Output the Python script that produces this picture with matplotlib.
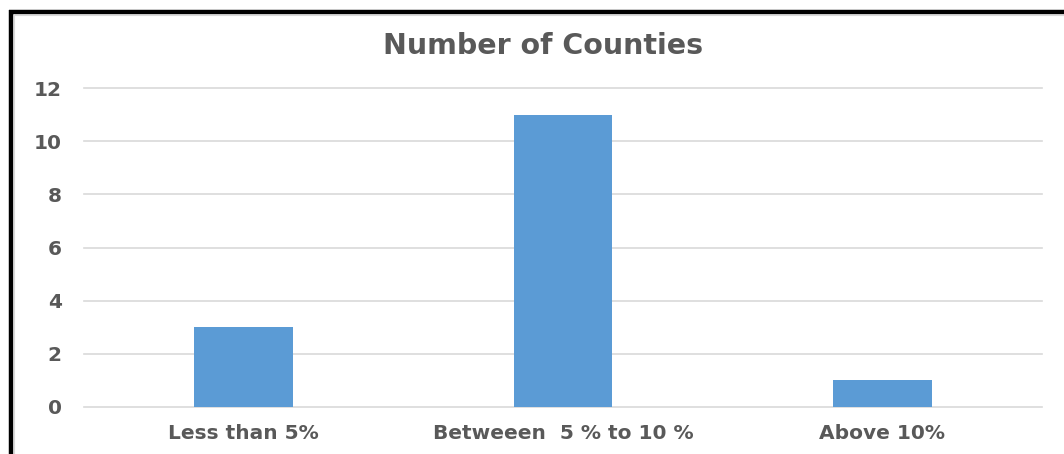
import matplotlib
matplotlib.use("Agg")
import matplotlib.pyplot as plt
from matplotlib.lines import Line2D

categories = ["Less than 5%", "Betweeen  5 % to 10 %", "Above 10%"]
counts = [3, 11, 1]
yticks = [0, 2, 4, 6, 8, 10, 12]
title = "Number of Counties"

W, H = 1064, 454
fig = plt.figure(figsize=(W / 100, H / 100), dpi=100)
fig.patch.set_facecolor("white")

ax = fig.add_axes([84 / W, 1 - 407 / H, (1042 - 84) / W, (407 - 88) / H])
x = list(range(len(categories)))
ax.bar(x, counts, width=0.31, color="#5B9BD5", zorder=3)
ax.set_xlim(-0.5, len(categories) - 0.5)
ax.set_ylim(0, 12)
ax.set_yticks(yticks)
ax.set_xticks(x)
ax.set_xticklabels(categories)
ax.grid(axis="y", color="#D9D9D9", linewidth=1.2, zorder=0)
for gl in ax.get_ygridlines():
    gl.set_clip_on(False)
for s in ax.spines.values():
    s.set_visible(False)
ax.tick_params(axis="both", length=0, colors="#595959", labelsize=14.5)
ax.tick_params(axis="y", pad=16)
ax.tick_params(axis="x", pad=12)
for lbl in ax.get_xticklabels() + ax.get_yticklabels():
    lbl.set_fontweight("bold")
    lbl.set_color("#595959")

fig.text(543 / W, 1 - 46 / H, title, ha="center", va="center",
         fontsize=20.5, fontweight="bold", color="#595959")

# outer frame (black thick left/top edges with thin grey inner line)
fig.add_artist(Line2D([11 / W, 11 / W], [0, 1 - 10 / H], transform=fig.transFigure,
                      color="black", linewidth=3.2, solid_capstyle="butt"))
fig.add_artist(Line2D([9 / W, 1], [1 - 12 / H, 1 - 12 / H], transform=fig.transFigure,
                      color="black", linewidth=3.2, solid_capstyle="butt"))
fig.add_artist(Line2D([14 / W, 14 / W], [0, 1 - 14 / H], transform=fig.transFigure,
                      color="#D9D9D9", linewidth=0.8, solid_capstyle="butt"))
fig.add_artist(Line2D([14 / W, 1], [1 - 14.5 / H, 1 - 14.5 / H], transform=fig.transFigure,
                      color="#D9D9D9", linewidth=0.8, solid_capstyle="butt"))

fig.savefig("out.png", dpi=100)
